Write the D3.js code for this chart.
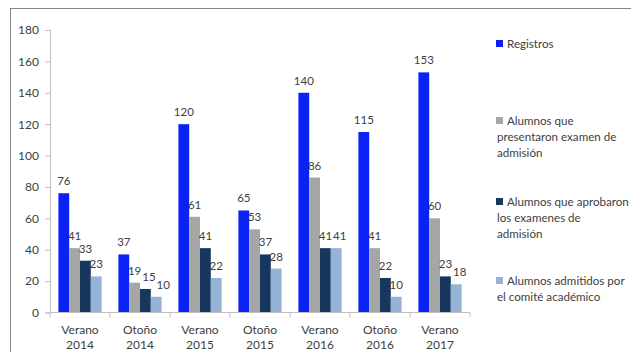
<!DOCTYPE html>
<html><head><meta charset="utf-8">
<script src="https://cdn.jsdelivr.net/npm/d3@7"></script>
<style>body{margin:0;background:#fff;} svg{display:block;} text{font-family:Lato,"Open Sans",sans-serif;fill:#404040;}</style>
</head><body>
<svg id="c" width="631" height="352"></svg>
<script>
const categories = [["Verano","2014"],["Otoño","2014"],["Verano","2015"],["Otoño","2015"],["Verano","2016"],["Otoño","2016"],["Verano","2017"]];
const seriesNames = [
  ["Registros"],
  ["Alumnos que","presentaron examen de","admisión"],
  ["Alumnos que aprobaron","los examenes de","admisión"],
  ["Alumnos admitidos por","el comité académico"]
];
const registros  = [76, 37, 120, 65, 140, 115, 153];
const presentaron = [41, 19, 61, 53, 86, 41, 60];
const aprobaron  = [33, 15, 41, 37, 41, 22, 23];
const admitidos  = [23, 10, 22, 28, 41, 10, 18];
const yTicks = [0,20,40,60,80,100,120,140,160,180];
const colors = ["#0A22F5","#A6A6A6","#17375E","#95B3D7"];

const series = [registros, presentaron, aprobaron, admitidos];
const svg = d3.select("#c");
svg.append("rect").attr("x",10.5).attr("y",8.5).attr("width",700).attr("height",400)
  .attr("fill","none").attr("stroke","#868686").attr("stroke-width",1);

const catKeys = categories.map((d,i)=>i);
const x0 = d3.scaleBand().domain(catKeys).range([50,470]).paddingInner(0.28).paddingOuter(0.14);
const x1 = d3.scaleBand().domain(d3.range(series.length)).range([0,x0.bandwidth()]);
const y = d3.scaleLinear().domain([0,180]).range([312.5,30]);

// y axis
const ya = svg.append("g").attr("transform","translate(50,0)")
  .call(d3.axisLeft(y).tickValues(yTicks).tickSize(5).tickPadding(6));
ya.select(".domain").attr("stroke","#BFBFBF");
ya.selectAll(".tick line").attr("stroke","#BFBFBF");
ya.selectAll(".tick text").style("font-size","12px").attr("fill","#404040");

// bars
const groups = svg.append("g").selectAll("g").data(catKeys).join("g")
  .attr("transform",d=>`translate(${x0(d)},0)`);
groups.selectAll("rect").data(ci=>series.map((s,si)=>({si,v:s[ci]}))).join("rect")
  .attr("x",d=>x1(d.si)).attr("width",x1.bandwidth())
  .attr("y",d=>y(d.v)).attr("height",d=>y(0)-y(d.v))
  .attr("fill",d=>colors[d.si]);
groups.each(function(){
  const labels = d3.select(this).selectAll("text.v")
    .data(ci=>series.map((s,si)=>({si,v:s[ci]}))).join("text")
    .attr("class","v")
    .attr("x",d=>x1(d.si)+x1.bandwidth()/2).attr("y",d=>y(d.v)-8)
    .attr("text-anchor","middle").style("font-size","11.5px").text(d=>d.v);
  // simple collision nudge to the right
  let prev = null;
  labels.each(function(d){
    const w = this.getComputedTextLength();
    let cx = +this.getAttribute("x");
    const ty = +this.getAttribute("y");
    if (prev && Math.abs(ty - prev.y) < 10) {
      const minC = prev.right + 1 + w/2;
      if (cx < minC) { cx = minC; this.setAttribute("x", cx); }
    }
    prev = {right: cx + w/2, y: ty};
  });
});

// x axis
const xa = svg.append("g").attr("transform",`translate(0,${y(0)})`);
xa.append("line").attr("x1",50).attr("x2",470).attr("stroke","#BFBFBF");
const step = x0.step();
d3.range(categories.length+1).forEach(i=>{
  const bx = 50 + i*step;
  xa.append("line").attr("x1",bx).attr("x2",bx).attr("y1",0).attr("y2",5).attr("stroke","#BFBFBF");
});
categories.forEach((c,i)=>{
  const cx = x0(i)+x0.bandwidth()/2;
  const t = xa.append("text").attr("x",cx).attr("y",21).attr("text-anchor","middle").style("font-size","12px");
  t.append("tspan").attr("x",cx).text(c[0]);
  t.append("tspan").attr("x",cx).attr("dy",15).text(c[1]);
});

// legend
const legY = [44,121,202,281];
seriesNames.forEach((lines,i)=>{
  const g = svg.append("g");
  g.append("rect").attr("x",496).attr("y",legY[i]-4).attr("width",7).attr("height",7).attr("fill",colors[i]);
  const t = g.append("text").attr("x",507).attr("y",legY[i]+4).style("font-size","11.6px");
  lines.forEach((l,j)=>t.append("tspan").attr("x",j?497:507).attr("dy",j?16:0).text(l));
});
</script>
</body></html>
